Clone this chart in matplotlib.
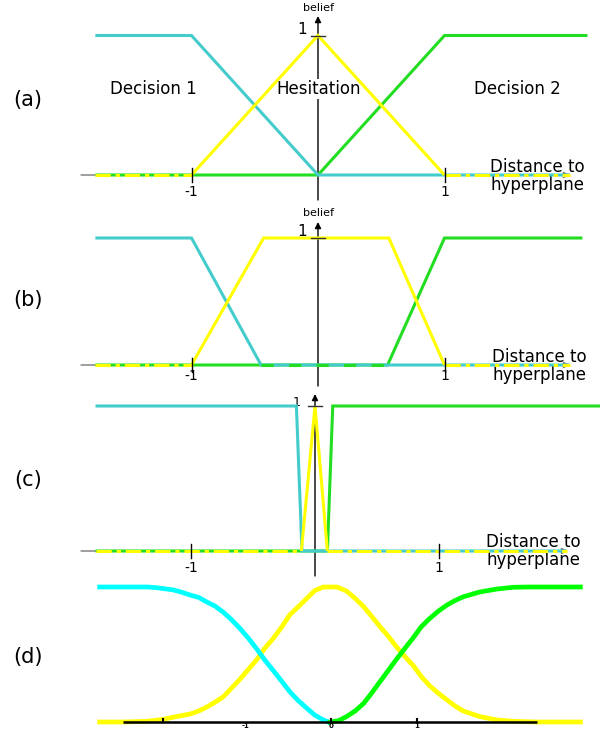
import matplotlib.pyplot as plt

W, H = 600, 729

CYAN = '#44cccc'
YELLOW = '#ffff00'
GREEN = '#22dd22'
D_CYAN = '#00ffff'
D_YELLOW = '#ffff00'
D_GREEN = '#00ff00'

# belief curves, x = distance to hyperplane, y = belief
# (a) linear
a_cyan_x = [-1.76, -1.0, 0.0, 1.99]
a_cyan_y = [1, 1, 0, 0]
a_yellow_x = [-1.76, -1.0, 0.0, 1.0, 1.99]
a_yellow_y = [0, 0, 1, 0, 0]
a_green_x = [-1.76, 0.0, 1.0, 2.13]
a_green_y = [0, 0, 1, 1]

# (b) trapezoid
b_cyan_x = [-1.76, -1.0, -0.45, 1.99]
b_cyan_y = [1, 1, 0, 0]
b_yellow_x = [-1.76, -1.0, -0.43, 0.56, 1.0, 1.99]
b_yellow_y = [0, 0, 1, 1, 0, 0]
b_green_x = [-1.76, 0.55, 1.0, 2.09]
b_green_y = [0, 0, 1, 1]

# (c) narrow
c_cyan_x = [-1.77, -0.15, -0.105, 2.03]
c_cyan_y = [1, 1, 0, 0]
c_yellow_x = [-1.77, -0.11, 0.0, 0.1, 2.03]
c_yellow_y = [0, 0, 1, 0, 0]
c_green_x = [-1.77, 0.1, 0.143, 2.3]
c_green_y = [0, 0, 1, 1]

# (d) smooth
d_cyan_x = [-2.69, -2.14, -2.03, -1.83, -1.72, -1.64, -1.54, -1.45, -1.35,
            -1.25, -1.16, -1.06, -0.96, -0.86, -0.77, -0.67, -0.57, -0.48,
            -0.38, -0.28, -0.19, -0.09, -0.03]
d_cyan_y = [1.0, 1.0, 0.995, 0.978, 0.958, 0.941, 0.923, 0.891, 0.859,
            0.812, 0.760, 0.694, 0.620, 0.538, 0.459, 0.380, 0.299, 0.225,
            0.158, 0.101, 0.052, 0.015, 0.0]
d_yellow_x = [-2.69, -2.42, -2.14, -1.95, -1.80, -1.64, -1.54, -1.45, -1.35,
              -1.25, -1.16, -1.06, -0.96, -0.86, -0.77, -0.67, -0.57, -0.48,
              -0.38, -0.28, -0.19, -0.09, 0.07, 0.18, 0.28, 0.38, 0.47, 0.57,
              0.67, 0.76, 0.86, 0.96, 1.05, 1.15, 1.25, 1.35, 1.44, 1.54,
              1.73, 1.93, 2.12, 2.39, 2.9]
d_yellow_y = [0.0, 0.0, 0.005, 0.020, 0.040, 0.059, 0.081, 0.109, 0.146,
              0.188, 0.249, 0.316, 0.390, 0.464, 0.546, 0.620, 0.706, 0.793,
              0.854, 0.916, 0.973, 1.0, 1.0, 0.970, 0.916, 0.854, 0.785, 0.706,
              0.632, 0.558, 0.484, 0.415, 0.336, 0.267, 0.212, 0.163, 0.119,
              0.081, 0.040, 0.015, 0.005, 0.0, 0.0]
d_green_x = [-0.01, 0.09, 0.18, 0.28, 0.38, 0.47, 0.57, 0.67, 0.76, 0.86,
             0.96, 1.05, 1.15, 1.25, 1.35, 1.44, 1.54, 1.73, 1.93, 2.12,
             2.31, 2.9]
d_green_y = [0.0, 0.010, 0.040, 0.081, 0.138, 0.212, 0.299, 0.385, 0.464,
             0.546, 0.627, 0.706, 0.768, 0.822, 0.867, 0.899, 0.928, 0.963,
             0.985, 0.998, 1.0, 1.0]
d_ticks = [-1.95, 0, 1]
d_ticklabels = [(-1, '-1'), (0, '0'), (1, '1')]

# pixel geometry of each panel: band rows, x of zero, px per unit, baseline, y of belief=1
GEOM = {
    'a': dict(band=(0, 205), x0=318, unit=126.5, base=175, one=35.5),
    'b': dict(band=(205, 390), x0=318, unit=126.5, base=365, one=238),
    'c': dict(band=(390, 580), x0=315, unit=124, base=551, one=406),
    'd': dict(band=(580, 729), x0=331, unit=86, base=722, one=587),
}

plt.rcParams['font.family'] = 'DejaVu Sans'
fig = plt.figure(figsize=(W / 100, H / 100), dpi=100)


def make_axes(g):
    top, bot = g['band']
    ax = fig.add_axes([0, 1 - bot / H, 1, (bot - top) / H])
    ax.set_xlim(-g['x0'] / g['unit'], (W - g['x0']) / g['unit'])
    span = g['base'] - g['one']
    ax.set_ylim((g['base'] - bot) / span, (g['base'] - top) / span)
    ax.axis('off')
    return ax


def px(g, x, y):
    return (x - g['x0']) / g['unit'], (g['base'] - y) / (g['base'] - g['one'])


def text(ax, g, x, y, s, **kw):
    kw.setdefault('ha', 'center')
    kw.setdefault('va', 'center')
    dx, dy = px(g, x, y)
    ax.text(dx, dy, s, **kw)


def arrow(ax, start, end, color):
    ax.annotate('', xy=end, xytext=start, zorder=1,
                arrowprops=dict(arrowstyle='-|>', color=color, lw=1,
                                mutation_scale=9, shrinkA=0, shrinkB=0))


def draw_linear(key, cyan, yellow, green, axis_bot, axis_tip, arrow_end,
                dist_x, dist_y, tick_y, one_lbl):
    g = GEOM[key]
    ax = make_axes(g)
    lw = 2.2
    # axes
    arrow(ax, px(g, 81, g['base']), px(g, arrow_end, g['base']), '#777777')
    arrow(ax, px(g, g['x0'], axis_bot), px(g, g['x0'], axis_tip), 'black')
    # curves
    ax.plot(green[0], green[1], color=GREEN, lw=lw, zorder=3,
            solid_joinstyle='miter', solid_capstyle='butt')
    ax.plot(cyan[0], cyan[1], color=CYAN, lw=lw, zorder=4,
            solid_joinstyle='miter', solid_capstyle='butt')
    yx, yy = yellow
    ax.plot(yx[1:-1], yy[1:-1], color=YELLOW, lw=lw, zorder=5,
            solid_joinstyle='miter', solid_capstyle='butt')
    for sl in (slice(0, 2), slice(-2, None)):
        ax.plot(yx[sl], yy[sl], color=YELLOW, lw=lw, zorder=5,
                dashes=(5, 1.6, 1.4, 1.6), dash_capstyle='butt')
    # tick marks
    h = 7 / (g['base'] - g['one'])
    for t in (-1, 1):
        ax.plot([t, t], [-h, h], color='black', lw=1, zorder=6)
    w = 7 / g['unit']
    ax.plot([-w, w], [1, 1], color='#333333', lw=1, zorder=6)
    for t, lbl in ((-1, '-1'), (1, '1')):
        ax.text(t, px(g, 0, tick_y)[1], lbl, ha='center', va='center', fontsize=10)
    text(ax, g, dist_x, dist_y, 'Distance to', fontsize=12, ha='left')
    text(ax, g, dist_x, dist_y + 18, 'hyperplane', fontsize=12, ha='left')
    text(ax, g, one_lbl[0], one_lbl[1], '1', fontsize=one_lbl[2])
    return ax, g


ax, g = draw_linear('a', (a_cyan_x, a_cyan_y), (a_yellow_x, a_yellow_y),
                    (a_green_x, a_green_y), 200, 16, 570, 490, 167, 192,
                    (302, 30, 11))
text(ax, g, 318, 8, 'belief', fontsize=8)
text(ax, g, 28, 100, '(a)', fontsize=15)
text(ax, g, 153, 89, 'Decision 1', fontsize=12)
text(ax, g, 319, 89, 'Hesitation', fontsize=12, zorder=2,
     bbox=dict(facecolor='white', edgecolor='none', pad=1))
text(ax, g, 517, 89, 'Decision 2', fontsize=12)

ax, g = draw_linear('b', (b_cyan_x, b_cyan_y), (b_yellow_x, b_yellow_y),
                    (b_green_x, b_green_y), 386, 222, 570, 492, 357, 376,
                    (302, 232, 11))
ax.plot([b_cyan_x[2], b_green_x[1]], [0, 0], color=GREEN, lw=2.2, zorder=4,
        dashes=(4, 5))
text(ax, g, 318, 213, 'belief', fontsize=8)
text(ax, g, 28, 300, '(b)', fontsize=15)

ax, g = draw_linear('c', (c_cyan_x, c_cyan_y), (c_yellow_x, c_yellow_y),
                    (c_green_x, c_green_y), 576, 394, 568, 486, 542, 568,
                    (297, 403, 9))
text(ax, g, 28, 480, '(c)', fontsize=15)

# panel (d)
g = GEOM['d']
ax = make_axes(g)
ax.plot(d_yellow_x, d_yellow_y, color=D_YELLOW, lw=3.4, zorder=3)
ax.plot(d_cyan_x, d_cyan_y, color=D_CYAN, lw=3.4, zorder=4)
ax.plot(d_green_x, d_green_y, color=D_GREEN, lw=3.4, zorder=4)
ax.plot([px(g, 123, 0)[0], px(g, 537, 0)[0]], [0, 0], color='black', lw=1.8,
        zorder=5, solid_capstyle='butt')
hh = 3 / (g['base'] - g['one'])
for t in d_ticks:
    ax.plot([t, t], [0, hh], color='black', lw=1.5, zorder=5)
for t, lbl in d_ticklabels:
    ax.text(t, px(g, 0, 729)[1], lbl, ha='center', va='bottom', fontsize=5,
            fontweight='bold', zorder=6)
text(ax, g, 28, 657, '(d)', fontsize=15)

fig.savefig('out.png', dpi=100)
